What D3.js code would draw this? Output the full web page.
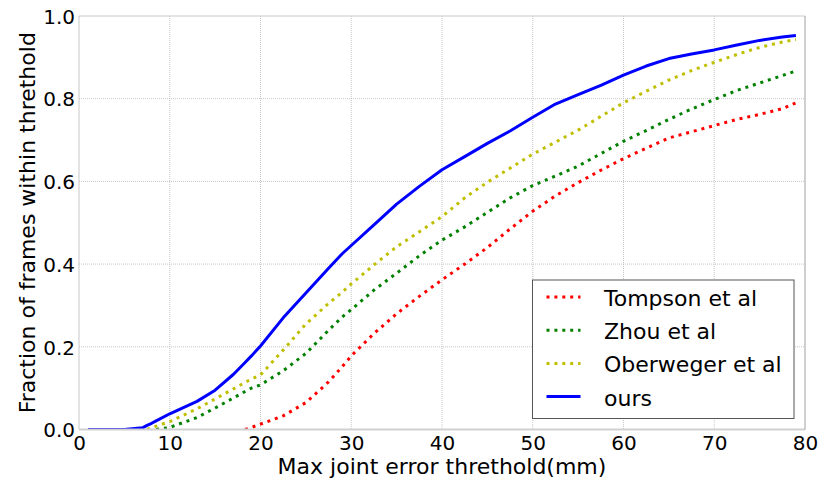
<!DOCTYPE html>
<html>
<head>
<meta charset="utf-8">
<script src="https://cdn.jsdelivr.net/npm/d3@7"></script>
<style>
  body { margin: 0; background: #fff; }
  text { font-family: "DejaVu Sans", sans-serif; fill: #000; }
</style>
</head>
<body>
<div id="chart"></div>
<script>
// thresholds (mm) shared by all series
const thresholds = [1, 5, 7, 7.5, 8, 8.5, 10, 13, 15, 17, 18.3, 19, 20, 22.5, 25, 27.5, 29, 30, 32.5, 35, 37.5, 40,
  42.5, 45, 47.5, 50, 52.5, 55, 57.5, 60, 62.5, 65, 67.5, 70, 72.5, 75, 77.5, 79];

const tompson = [null, null, null, null, null, null, null, null, null, null, 0, 0.005, 0.013, 0.033, 0.065, 0.115, 0.152, 0.178, 0.232, 0.28, 0.322, 0.362,
  0.4, 0.44, 0.485, 0.528, 0.565, 0.597, 0.627, 0.655, 0.68, 0.705, 0.72, 0.735, 0.75, 0.762, 0.776, 0.79];
const zhou = [null, null, null, null, null, 0, 0.005, 0.029, 0.052, 0.076, 0.092, 0.1, 0.108, 0.142, 0.184, 0.24, 0.272, 0.29, 0.337, 0.378, 0.42, 0.458,
  0.49, 0.525, 0.56, 0.59, 0.613, 0.637, 0.667, 0.697, 0.723, 0.75, 0.775, 0.798, 0.82, 0.838, 0.856, 0.867];
const oberweger = [null, null, null, 0, 0.004, 0.008, 0.019, 0.05, 0.074, 0.098, 0.114, 0.122, 0.132, 0.192, 0.255, 0.305, 0.332, 0.352, 0.398, 0.442, 0.478, 0.515,
  0.56, 0.598, 0.632, 0.666, 0.695, 0.724, 0.757, 0.79, 0.818, 0.845, 0.868, 0.888, 0.907, 0.924, 0.937, 0.943];
const ours = [0, 0, 0.004, 0.01, 0.015, 0.021, 0.038, 0.068, 0.095, 0.133, 0.162, 0.178, 0.202, 0.27, 0.33, 0.39, 0.425, 0.445, 0.495, 0.545, 0.588, 0.628,
  0.66, 0.692, 0.722, 0.755, 0.787, 0.81, 0.832, 0.857, 0.879, 0.897, 0.908, 0.918, 0.93, 0.941, 0.949, 0.953];

const xTicks = [0, 10, 20, 30, 40, 50, 60, 70, 80];
const yTicks = [0, 0.2, 0.4, 0.6, 0.8, 1.0];

const series = [
  { name: "Tompson et al", values: tompson, color: "#ff0000", dotted: true },
  { name: "Zhou et al", values: zhou, color: "#008000", dotted: true },
  { name: "Oberweger et al", values: oberweger, color: "#bfbf00", dotted: true },
  { name: "ours", values: ours, color: "#0000ff", dotted: false }
];

const W = 831, H = 483;
const margin = { top: 16, right: 26, bottom: 53.5, left: 79 };
const width = W - margin.left - margin.right;
const height = H - margin.top - margin.bottom;

const svg = d3.select("#chart").append("svg")
  .attr("width", W)
  .attr("height", H);

const g = svg.append("g")
  .attr("transform", `translate(${margin.left},${margin.top})`);

const x = d3.scaleLinear().domain([0, 80]).range([0, width]);
const y = d3.scaleLinear().domain([0, 1]).range([height, 0]);

// grid
g.append("g")
  .selectAll("line")
  .data(xTicks.slice(1, -1))
  .join("line")
  .attr("x1", d => x(d)).attr("x2", d => x(d))
  .attr("y1", 0).attr("y2", height)
  .attr("stroke", "#b8b8b8").attr("stroke-width", 0.8)
  .attr("stroke-dasharray", "1,1");

g.append("g")
  .selectAll("line")
  .data(yTicks.slice(1, -1))
  .join("line")
  .attr("y1", d => y(d)).attr("y2", d => y(d))
  .attr("x1", 0).attr("x2", width)
  .attr("stroke", "#b8b8b8").attr("stroke-width", 0.8)
  .attr("stroke-dasharray", "1,1");

// axes (labels only, spines drawn as a frame)
const xAxis = g.append("g")
  .attr("transform", `translate(0,${height})`)
  .call(d3.axisBottom(x).tickValues(xTicks).tickSize(0).tickPadding(20).tickFormat(d3.format("d")));
xAxis.select(".domain").remove();
xAxis.selectAll("text").style("font-size", "20px").attr("dy", 0);

const yAxis = g.append("g")
  .call(d3.axisLeft(y).tickValues(yTicks).tickSize(0).tickPadding(4).tickFormat(d3.format(".1f")));
yAxis.select(".domain").remove();
yAxis.selectAll("text").style("font-size", "20px").attr("dy", "0.36em");

// lines
const line = d3.line()
  .defined(d => d[1] !== null)
  .x(d => x(d[0]))
  .y(d => y(d[1]));

svg.append("clipPath").attr("id", "plotclip")
  .append("rect").attr("x", 0).attr("y", -2).attr("width", width).attr("height", height + 2);

series.forEach(s => {
  const pts = thresholds.map((t, i) => [t, s.values[i]]);
  g.append("path")
    .datum(pts)
    .attr("fill", "none")
    .attr("stroke", s.color)
    .attr("stroke-width", 3)
    .attr("stroke-dasharray", s.dotted ? "3,4.9" : null)
    .attr("stroke-linejoin", "round")
    .attr("clip-path", "url(#plotclip)")
    .attr("d", line);
});

// frame
g.append("line").attr("x1", 0).attr("x2", width).attr("y1", 0).attr("y2", 0).attr("stroke", "#c8c8c8");
g.append("line").attr("x1", 0).attr("x2", 0).attr("y1", 0).attr("y2", height).attr("stroke", "#c8c8c8");
g.append("line").attr("x1", 0).attr("x2", width).attr("y1", height).attr("y2", height).attr("stroke", "#d0d0d0").attr("stroke-width", 2);
g.append("line").attr("x1", width).attr("x2", width).attr("y1", 0).attr("y2", height).attr("stroke", "#a0a0a0");

// axis titles
g.append("text")
  .attr("x", width / 2)
  .attr("y", height + 44)
  .attr("text-anchor", "middle")
  .style("font-size", "22px")
  .text("Max joint error threthold(mm)");

g.append("text")
  .attr("transform", `translate(${35 - margin.left},${height / 2}) rotate(-90)`)
  .attr("text-anchor", "middle")
  .style("font-size", "22px")
  .text("Fraction of frames within threthold");

// legend
const legend = svg.append("g").attr("transform", "translate(532.5,280)");
legend.append("rect")
  .attr("width", 261.5).attr("height", 138.5)
  .attr("fill", "#fff").attr("stroke", "#555").attr("stroke-width", 1);

series.forEach((s, i) => {
  const ly = 17 + i * 33.2;
  legend.append("line")
    .attr("x1", 14).attr("x2", 48)
    .attr("y1", ly).attr("y2", ly)
    .attr("stroke", s.color).attr("stroke-width", 3)
    .attr("stroke-dasharray", s.dotted ? "3,4.9" : null);
  legend.append("text")
    .attr("x", 71.5).attr("y", ly + 9)
    .style("font-size", "22px")
    .text(s.name);
});
</script>
</body>
</html>
